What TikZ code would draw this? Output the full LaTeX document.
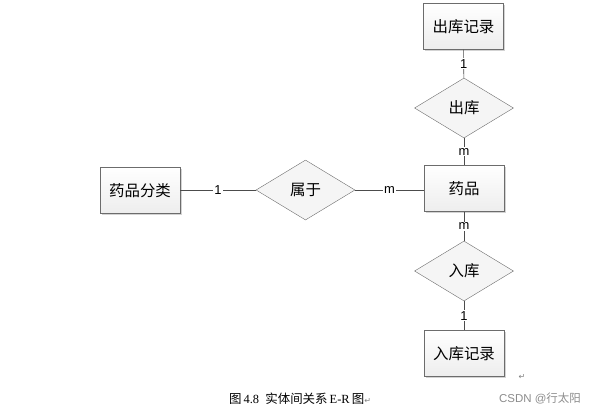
\documentclass[tikz,border=0pt]{standalone}
\usepackage{fontspec}
\setmainfont{Liberation Serif}
\newfontfamily\cjk{Noto Sans CJK SC}
\newfontfamily\lbl{Liberation Sans}
\newfontfamily\sym{DejaVu Sans}
\usetikzlibrary{shapes.geometric,shadows}
\tikzset{
  entity/.style={draw=gray!85!black, top color=white, bottom color=gray!14,
    minimum width=80bp, minimum height=46bp, inner sep=0pt,
    drop shadow={shadow xshift=1.5bp, shadow yshift=-1.5bp, opacity=0.35},
    font=\cjk\fontsize{15.5}{18}\selectfont},
  relation/.style={diamond, aspect=1.65, draw=gray!85!black, fill=gray!8,
    minimum width=99bp, minimum height=60bp, inner sep=0pt,
    font=\cjk\fontsize{15.5}{18}\selectfont},
  card/.style={fill=white, inner sep=1.2pt, font=\lbl\fontsize{13}{14}\selectfont},
  link/.style={draw=black!70, line width=0.6pt}
}
\begin{document}
\begin{tikzpicture}[x=1bp, y=-1bp]
  \useasboundingbox (0,0) rectangle (604,417);
  \node[entity] (outrec) at (463.5,26.5) {出库记录};
  \node[relation] (out) at (464,108) {出库};
  \node[entity] (drug) at (464,188.5) {药品};
  \node[entity] (cat) at (140,190.5) {药品分类};
  \node[relation] (belong) at (305.5,190) {属于};
  \node[relation] (in) at (464,271) {入库};
  \node[entity] (inrec) at (464,353.5) {入库记录};

  \draw[link] (outrec) -- node[card] {1} (out);
  \draw[link] (out) -- node[card] {m} (drug);
  \draw[link] (cat.east |- belong) -- node[card] {1} (belong);
  \draw[link] (belong) -- node[card] {m} (drug.west |- belong);
  \draw[link] (drug) -- node[card] {m} (in);
  \draw[link] (in) -- node[card] {1} (inrec);

  \node[font=\fontsize{12.5}{14}\selectfont, inner sep=0pt] (cap) at (300,399)
    {{\cjk 图}\,4.8\ \ {\cjk 实体间关系}\,E-R\,{\cjk 图}{\sym\color{gray}\fontsize{8}{9}\selectfont ↵}};
  \node[font=\sym\fontsize{8}{9}\selectfont, text=gray, inner sep=0pt] (ret) at (522,377) {↵};
  \node[font=\lbl\fontsize{11.5}{13}\selectfont, text=gray!90, inner sep=0pt] (mark) at (540,398)
    {CSDN @{\cjk 行太阳}};
\end{tikzpicture}
\end{document}
